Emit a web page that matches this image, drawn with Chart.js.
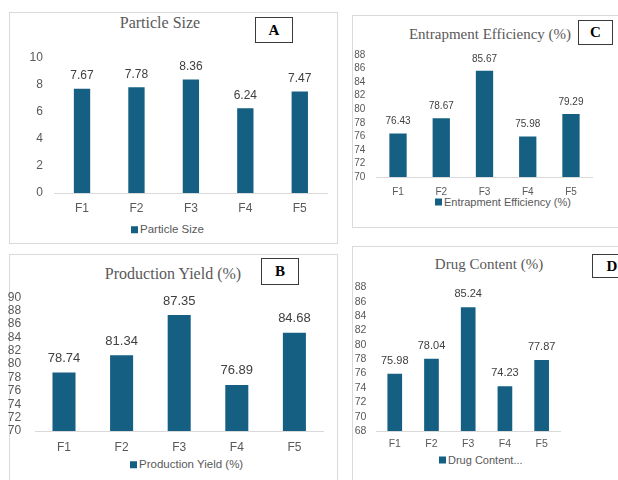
<!DOCTYPE html>
<html>
<head>
<meta charset="utf-8">
<script src="https://cdn.jsdelivr.net/npm/chart.js@4.4.1/dist/chart.umd.min.js"></script>
<style>
  html, body { margin: 0; padding: 0; background: #fff; }
  body { width: 618px; height: 480px; position: relative; overflow: hidden;
         font-family: "Liberation Sans", Arial, sans-serif; }
  .frame { position: absolute; border: 1px solid #d9d9d9; box-sizing: border-box; }
  .title { position: absolute; font-family: "Liberation Serif", "Times New Roman", serif;
           color: #595959; white-space: nowrap; line-height: 1; transform: translate(-50%, -50%); }
  .tag { position: absolute; border: 1px solid #3a3a3a; box-sizing: border-box; background: #fff;
         font-family: "Liberation Serif", "Times New Roman", serif; font-weight: bold;
         font-size: 15px; color: #000; display: flex; align-items: center; justify-content: center; }
  .legend { position: absolute; color: #595959; white-space: nowrap; display: flex;
            align-items: center; transform: translateY(-50%); line-height: 1; }
  .legend i { display: inline-block; width: 7px; height: 7px; background: #156082; margin-right: 2px; }
  canvas { position: absolute; }
</style>
</head>
<body>
<script>
// ---- data ----
const formulations = ['F1', 'F2', 'F3', 'F4', 'F5'];

const particleSize         = [7.67, 7.78, 8.36, 6.24, 7.47];
const productionYield      = [78.74, 81.34, 87.35, 76.89, 84.68];
const entrapmentEfficiency = [76.43, 78.67, 85.67, 75.98, 79.29];
const drugContent          = [75.98, 78.04, 85.24, 74.23, 77.87];

// y axis ranges: [min, max, step]
const particleSizeTicks    = [0, 10, 2];
const productionYieldTicks = [70, 90, 2];
const entrapmentTicks      = [70, 88, 2];
const drugContentTicks     = [68, 88, 2];

const BAR_COLOR = '#156082';
const SANS = '"Liberation Sans", Arial, sans-serif';

// value labels above each bar
const valueLabels = {
  id: 'valueLabels',
  afterDatasetsDraw(chart, args, opts) {
    const ctx = chart.ctx;
    const meta = chart.getDatasetMeta(0);
    const values = chart.data.datasets[0].data;
    ctx.save();
    ctx.font = opts.size + 'px ' + SANS;
    ctx.fillStyle = '#404040';
    ctx.textAlign = 'center';
    ctx.textBaseline = 'middle';
    meta.data.forEach((bar, i) => {
      ctx.fillText(values[i].toFixed(2), bar.x, bar.y - opts.offset);
    });
    ctx.restore();
  }
};

function el(tag, cls, style) {
  const e = document.createElement(tag);
  if (cls) e.className = cls;
  Object.assign(e.style, style);
  document.body.appendChild(e);
  return e;
}

// one framed bar chart panel
function panel(p) {
  el('div', 'frame', { left: p.frame[0] + 'px', top: p.frame[1] + 'px',
                       width: p.frame[2] + 'px', height: p.frame[3] + 'px' });

  const t = el('div', 'title', { left: p.titlePos[0] + 'px', top: p.titlePos[1] + 'px',
                                 fontSize: p.titleSize + 'px' });
  t.textContent = p.title;

  const g = el('div', 'tag', { left: p.tag[0] + 'px', top: p.tag[1] + 'px',
                               width: p.tag[2] + 'px', height: p.tag[3] + 'px' });
  g.textContent = p.letter;

  const lg = el('div', 'legend', { left: p.legendPos[0] + 'px', top: p.legendPos[1] + 'px',
                                   fontSize: p.legendSize + 'px' });
  lg.appendChild(document.createElement('i'));
  lg.appendChild(document.createTextNode(p.legend));

  // plot area: left L, right R, top T (max tick), bottom B (min tick)
  const [L, R, T, B] = p.area;
  const cx = Math.floor(L) - 36;
  const cy = Math.floor(T) - 14;
  const YW = L - cx;
  const PT = T - cy;
  const XH = 26, PB = 4, PR = 6;
  const cw = Math.ceil(R - cx + PR);
  const ch = Math.ceil(PT + (B - T) + XH + PB);

  const canvas = document.createElement('canvas');
  canvas.width = cw; canvas.height = ch;
  canvas.style.left = cx + 'px'; canvas.style.top = cy + 'px';
  canvas.style.width = cw + 'px'; canvas.style.height = ch + 'px';
  document.body.appendChild(canvas);

  const [ymin, ymax, step] = p.ticks;
  new Chart(canvas, {
    type: 'bar',
    data: {
      labels: formulations,
      datasets: [{
        label: p.legend,
        data: p.values,
        backgroundColor: BAR_COLOR,
        borderWidth: 0,
        categoryPercentage: 1,
        barPercentage: p.barPct
      }]
    },
    options: {
      responsive: false,
      animation: false,
      devicePixelRatio: 1,
      layout: { padding: { top: PT, right: cw - (R - cx), bottom: PB, left: 0 } },
      plugins: {
        legend: { display: false },
        title: { display: false },
        tooltip: { enabled: false },
        valueLabels: { size: p.labelSize, offset: p.labelOffset }
      },
      scales: {
        x: {
          grid: { display: false, drawTicks: false },
          border: { display: true, color: '#d9d9d9', width: 1 },
          ticks: { color: '#595959', font: { family: SANS, size: p.tickSize }, padding: p.xPad },
          afterFit(s) { s.height = XH; }
        },
        y: {
          min: ymin, max: ymax,
          grid: { display: false, drawTicks: false },
          border: { display: false },
          ticks: { stepSize: step, autoSkip: false, color: '#595959',
                   font: { family: SANS, size: p.tickSize }, padding: p.yPad },
          afterFit(s) { s.width = YW; }
        }
      }
    },
    plugins: [valueLabels]
  });
}

panel({
  frame: [9, 12, 329, 232],
  title: 'Particle Size', titlePos: [160, 23], titleSize: 16,
  letter: 'A', tag: [255, 17, 38, 26],
  legend: 'Particle Size', legendPos: [131, 230], legendSize: 11.5,
  area: [54.8, 327, 52, 193], ticks: particleSizeTicks, values: particleSize,
  barPct: 0.3, tickSize: 12, labelSize: 12, labelOffset: 13, xPad: 8, yPad: 12
});

panel({
  frame: [9, 254, 329, 300],
  title: 'Production Yield (%)', titlePos: [173, 274], titleSize: 16,
  letter: 'B', tag: [261, 258, 38, 27],
  legend: 'Production Yield (%)', legendPos: [130, 465], legendSize: 11.5,
  area: [35.2, 323.2, 290, 431], ticks: productionYieldTicks, values: productionYield,
  barPct: 0.4, tickSize: 12, labelSize: 13, labelOffset: 14, xPad: 9, yPad: 14
});

panel({
  frame: [352, 15, 280, 213],
  title: 'Entrapment Efficiency (%)', titlePos: [490, 34], titleSize: 15,
  letter: 'C', tag: [578, 20, 35, 25],
  legend: 'Entrapment Efficiency (%)', legendPos: [435, 202], legendSize: 11,
  area: [376.4, 592.6, 52, 177], ticks: entrapmentTicks, values: entrapmentEfficiency,
  barPct: 0.4, tickSize: 10, labelSize: 10, labelOffset: 12, xPad: 9, yPad: 11
});

panel({
  frame: [352, 246, 300, 300],
  title: 'Drug Content (%)', titlePos: [489, 264], titleSize: 15,
  letter: 'D', tag: [592, 254, 40, 24],
  legend: 'Drug Content...', legendPos: [439, 460], legendSize: 11,
  area: [376.4, 560, 285, 431], ticks: drugContentTicks, values: drugContent,
  barPct: 0.4, tickSize: 10.5, labelSize: 11, labelOffset: 13, xPad: 7, yPad: 10
});
</script>
</body>
</html>
